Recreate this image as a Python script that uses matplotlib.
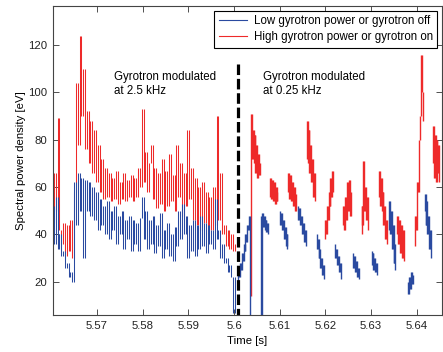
import numpy as np
import matplotlib
matplotlib.use('Agg')
import matplotlib.pyplot as plt
from matplotlib.lines import Line2D

plt.rcParams['font.family'] = ['Liberation Sans', 'DejaVu Sans']

# fast modulation part (2.5 kHz), one sample every 0.4 ms
fast_t0 = 5.5604
fast_dt = 0.0004
red_fast = [45, 66, 50, 89, 42, 36, 45, 31, 44, 33, 46, 30, 58, 104, 78, 124, 90, 110, 76, 92,
            70, 88, 66, 84, 62, 78, 58, 72, 55, 68, 56, 66, 54, 64, 55, 67, 53, 62, 55, 66,
            54, 63, 56, 65, 54, 64, 56, 68, 60, 93, 62, 75, 58, 70, 78, 55, 68, 51, 66, 53,
            72, 50, 67, 52, 74, 54, 65, 50, 78, 56, 70, 48, 66, 52, 84, 55, 68, 46, 64, 44,
            60, 42, 62, 45, 58, 40, 56, 42, 60, 44, 90, 46, 66, 40, 44, 35, 42, 34, 40, 33, 36]
blue_fast = [52, 36, 56, 34, 40, 31, 33, 26, 28, 22, 24, 20, 62, 44, 66, 50, 64, 30, 63, 50,
             62, 48, 60, 46, 58, 42, 55, 44, 52, 40, 54, 38, 50, 42, 52, 36, 48, 40, 50, 34,
             46, 38, 48, 33, 46, 36, 45, 33, 47, 56, 38, 50, 34, 46, 36, 48, 32, 44, 35, 49,
             30, 42, 34, 45, 31, 40, 29, 43, 35, 50, 38, 53, 40, 48, 30, 44, 33, 46, 31, 44,
             34, 48, 35, 45, 32, 44, 36, 42, 34, 55, 38, 42, 30, 36, 28, 30, 24, 27, 22, 7, 22]

# slow modulation part (0.25 kHz), blocks sampled every 0.2 ms
block_dt = 0.0002
red_block_start = [5.6036, 5.6078, 5.6118, 5.6158, 5.6198, 5.6238,
                   5.6278, 5.6316, 5.6356, 5.6396, 5.6434]
red_blocks = [
    [14, 91, 72, 84, 70, 82, 66, 78, 64, 74, 65, 70],
    [56, 64, 55, 63, 54, 62, 53, 60, 54, 58],
    [58, 66, 55, 65, 54, 62, 52, 60, 50, 57],
    [72, 88, 70, 84, 66, 78, 62, 72, 56, 66, 54],
    [38, 46, 40, 52, 46, 58, 52, 64, 56, 67, 58],
    [44, 52, 42, 56, 46, 62, 50, 63, 48, 58],
    [40, 52, 44, 71, 50, 60, 46, 56, 42],
    [56, 67, 52, 64, 50, 58, 44, 52, 38, 46, 36],
    [40, 48, 36, 46, 32, 44, 30, 42, 29],
    [35, 48, 42, 62, 58, 80, 90, 116, 100, 88],
    [70, 86, 64, 82, 62, 80, 66, 78, 62],
]
blue_block_start = [5.6008, 5.6058, 5.6100, 5.6140, 5.6180, 5.6220,
                    5.6260, 5.6300, 5.6338, 5.6380, 5.6416]
blue_blocks = [
    [20, 26, 22, 28, 25, 32, 29, 36, 33, 40, 37, 44, 42, 48, 6],
    [48, 6, 49, 43, 48, 42, 46, 41, 45, 40],
    [50, 44, 49, 42, 46, 38, 43, 35, 40, 34],
    [52, 46, 51, 44, 48, 40, 45, 37, 42, 35],
    [40, 34, 38, 30, 34, 26, 30, 23, 27, 21],
    [36, 30, 34, 27, 31, 24, 28, 21],
    [32, 26, 31, 24, 29, 22, 26, 21],
    [33, 27, 32, 25, 30, 24, 28, 23],
    [42, 54, 40, 50, 34, 44, 28, 36, 25],
    [20, 15, 22, 17, 24, 19, 23],
    [50, 57, 44, 54, 40, 48, 34, 42, 30],
]


def strokes(starts, blocks, dt):
    # each pair of neighbouring samples becomes one vertical stroke
    x, lo, hi = [], [], []
    for t0, vals in zip(starts, blocks):
        for i in range(len(vals) - 1):
            x.append(t0 + dt * (i + 0.5))
            lo.append(min(vals[i], vals[i + 1]))
            hi.append(max(vals[i], vals[i + 1]))
    return x, lo, hi


red = '#ee2a2a'
blue = '#2a4aa0'

fig = plt.figure(figsize=(4.43, 3.52), dpi=100)
ax = fig.add_axes([53 / 443, 1 - 315 / 352, 389 / 443, 309 / 352])

ax.vlines(*strokes([fast_t0], [red_fast], fast_dt), color=red, lw=0.75)
ax.vlines(*strokes(red_block_start, red_blocks, block_dt), color=red, lw=1.0)
ax.vlines(*strokes([fast_t0], [blue_fast], fast_dt), color=blue, lw=0.75)
ax.vlines(*strokes(blue_block_start, blue_blocks, block_dt), color=blue, lw=1.0)

ax.plot([5.6009, 5.6009], [112, 6], color='black', lw=2.3,
        linestyle=(0, (3.3, 1.2)))

ax.text(5.5737, 109, 'Gyrotron modulated\nat 2.5 kHz', fontsize=8.3,
        va='top', ha='left', linespacing=1.2)
ax.text(5.6064, 109, 'Gyrotron modulated\nat 0.25 kHz', fontsize=8.3,
        va='top', ha='left', linespacing=1.2)

hb = Line2D([], [], color=blue, lw=0.8)
hr = Line2D([], [], color=red, lw=0.8)
leg = ax.legend([hb, hr], ['Low gyrotron power or gyrotron off',
                           'High gyrotron power or gyrotron on'],
                loc='upper right', fontsize=8.3, fancybox=False, framealpha=1,
                borderaxespad=0.4, handlelength=2.4, handletextpad=0.6,
                borderpad=0.4, labelspacing=0.32)
leg.get_frame().set_edgecolor('black')
leg.get_frame().set_linewidth(0.8)

ax.set_xlim(5.5604, 5.6455)
ax.set_ylim(6, 136.5)
ax.set_xticks([5.57, 5.58, 5.59, 5.6, 5.61, 5.62, 5.63, 5.64])
ax.set_xticklabels(['5.57', '5.58', '5.59', '5.6', '5.61', '5.62', '5.63', '5.64'])
ax.set_yticks([20, 40, 60, 80, 100, 120])
ax.tick_params(direction='in', top=True, right=True, length=4, width=0.6,
               labelsize=8.2, colors='#333333', labelcolor='#222222', pad=4)
for s in ax.spines.values():
    s.set_color('#444444')
    s.set_linewidth(0.8)

ax.set_xlabel('Time [s]', fontsize=8.2, labelpad=4)
ax.set_ylabel('Spectral power density [eV]', fontsize=8.2, labelpad=2)

fig.savefig('out.png', dpi=100)
